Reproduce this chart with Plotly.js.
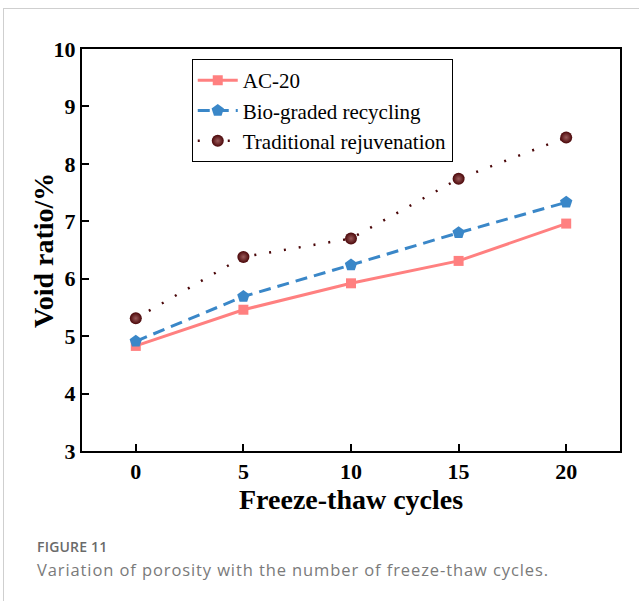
<!DOCTYPE html>
<html>
<head>
<meta charset="utf-8">
<script src="https://cdn.plot.ly/plotly-3.0.1.min.js"></script>
<style>
  html, body { margin: 0; padding: 0; background: #fff; }
  #wrap { position: relative; width: 639px; height: 601px; overflow: hidden; }
  #frame { position: absolute; left: 3px; top: 8px; width: 660px; height: 620px;
           border-top: 1px solid #cfcfcf; border-left: 1px solid #cfcfcf; }
  #chart { position: absolute; left: 0; top: 0; width: 639px; height: 601px; }
  .cap { position: absolute; left: 37px; font-family: 'Open Sans', 'Noto Sans', sans-serif; white-space: nowrap; }
  #figno { top: 539px; height: 15px; font-size: 14px; line-height: 15px; font-weight: 600; color: #6a6a6a; letter-spacing: 0.2px; }
  #figtext { top: 561px; height: 18px; font-size: 16.5px; line-height: 18px; color: #7a7a7a; letter-spacing: 0.9px; }
</style>
</head>
<body>
<div id="wrap">
  <div id="frame"></div>
  <div id="chart"></div>
  <div class="cap" id="figno">FIGURE 11</div>
  <div class="cap" id="figtext">Variation of porosity with the number of freeze-thaw cycles.</div>
</div>
<script>
// Freeze-thaw cycles and measured void ratio (%) for each mixture
const cycles = [0, 5, 10, 15, 20];
const ac20 = [4.83, 5.46, 5.92, 6.31, 6.96];
const bioGraded = [4.91, 5.69, 6.24, 6.80, 7.33];
const traditional = [5.31, 6.38, 6.70, 7.74, 8.46];
const seriesNames = ['AC-20', 'Bio-graded recycling', 'Traditional rejuvenation'];
const xTicks = [0, 5, 10, 15, 20];
const yTicks = [3, 4, 5, 6, 7, 8, 9, 10];

const serif = 'Liberation Serif, Times New Roman, serif';

const traces = [
  {
    x: cycles, y: ac20, name: seriesNames[0], type: 'scatter', mode: 'lines+markers',
    line: { color: '#FF8080', width: 3 },
    marker: { symbol: 'square', size: 10, color: '#FF8080' }
  },
  {
    x: cycles, y: bioGraded, name: seriesNames[1], type: 'scatter', mode: 'lines+markers',
    line: { color: '#3A87C8', width: 3, dash: '12px,7px' },
    marker: { symbol: 'pentagon', size: 13, color: '#3A87C8' }
  },
  {
    x: cycles, y: traditional, name: seriesNames[2], type: 'scatter', mode: 'lines+markers',
    line: { color: '#4A0608', width: 2.5, dash: '2px,13px' },
    marker: { symbol: 'circle', size: 12, color: '#4A0608',
              gradient: { type: 'radial', color: '#9a5a5a' } }
  }
];

const tickFont = { family: serif, size: 22, color: '#000', weight: 'bold' };

const layout = {
  width: 639, height: 601,
  margin: { l: 82, r: 19, t: 49, b: 150 },
  paper_bgcolor: 'rgba(0,0,0,0)',
  plot_bgcolor: '#fff',
  showlegend: true,
  legend: {
    x: 0.204, y: 0.975, xanchor: 'left', yanchor: 'top',
    bgcolor: '#fff', bordercolor: '#000', borderwidth: 1,
    font: { family: serif, size: 21, color: '#000' },
    tracegroupgap: 0, itemwidth: 40
  },
  xaxis: {
    range: [-2.5, 22.5], tickvals: xTicks, ticktext: xTicks.map(String),
    showgrid: false, zeroline: false,
    showline: true, linecolor: '#000', linewidth: 2, mirror: true,
    ticks: 'inside', ticklen: 7, tickwidth: 2, tickcolor: '#000',
    tickfont: tickFont
  },
  yaxis: {
    range: [3, 10], tickvals: yTicks, ticktext: yTicks.map(String),
    showgrid: false, zeroline: false,
    showline: true, linecolor: '#000', linewidth: 2, mirror: true,
    ticks: 'inside', ticklen: 7, tickwidth: 2, tickcolor: '#000',
    tickfont: tickFont
  },
  annotations: [
    { xref: 'paper', yref: 'paper', x: 0.5, y: -0.121, xanchor: 'center', yanchor: 'middle',
      text: '<b>Freeze-thaw cycles</b>', showarrow: false,
      font: { family: serif, size: 28, color: '#000' } },
    { xref: 'paper', yref: 'paper', x: -0.0725, y: 0.5, xanchor: 'center', yanchor: 'middle',
      text: '<b>Void ratio/%</b>', showarrow: false, textangle: -90,
      font: { family: serif, size: 28, color: '#000' } }
  ]
};

Plotly.newPlot('chart', traces, layout, { displayModeBar: false, staticPlot: true });
</script>
</body>
</html>
